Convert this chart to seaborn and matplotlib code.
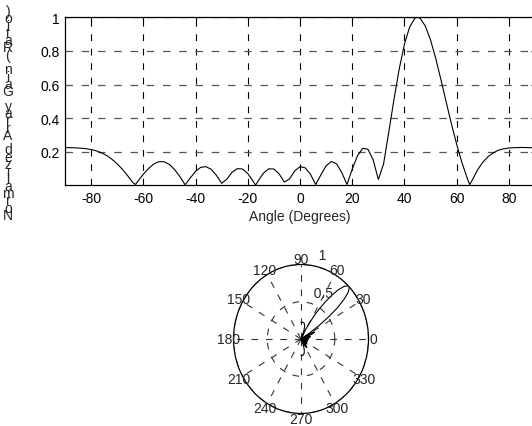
import numpy as np
import seaborn as sns
import matplotlib
matplotlib.use("Agg")
import matplotlib.pyplot as plt

# angle (deg) and normalized array gain
angle = [-90, -88, -86, -84, -82, -80, -78, -76, -74, -72, -70, -68, -66, -64, -63,
         -62, -60, -58, -56, -54, -52, -50, -48, -46, -44, -42, -40, -38, -36, -34,
         -32, -30, -28, -26, -24, -22, -20, -18, -17, -16, -14, -12, -10, -8, -6,
         -4, -2, 0, 2, 4, 6, 8, 10, 12, 14, 16, 18, 20, 22, 24, 26, 28, 30, 32, 34,
         36, 38, 40, 42, 44, 45, 46, 48, 50, 52, 54, 56, 58, 60, 62, 64, 65, 66, 68,
         70, 72, 74, 76, 78, 80, 82, 84, 86, 88, 90]
gain = [0.224, 0.224, 0.223, 0.221, 0.218, 0.213, 0.205, 0.193, 0.177, 0.155, 0.127,
        0.095, 0.057, 0.016, 0.005, 0.026, 0.066, 0.100, 0.127, 0.141, 0.140, 0.124,
        0.093, 0.052, 0.003, 0.044, 0.083, 0.107, 0.111, 0.095, 0.059, 0.012, 0.037,
        0.078, 0.099, 0.097, 0.070, 0.025, 0.001, 0.027, 0.072, 0.098, 0.097, 0.068,
        0.019, 0.038, 0.086, 0.111, 0.104, 0.066, 0.005, 0.062, 0.116, 0.142, 0.128,
        0.076, 0.005, 0.096, 0.175, 0.220, 0.215, 0.153, 0.035, 0.127, 0.317, 0.512,
        0.693, 0.840, 0.943, 0.994, 1.000, 0.994, 0.948, 0.865, 0.754, 0.627, 0.495,
        0.365, 0.244, 0.136, 0.044, 0.004, 0.032, 0.092, 0.137, 0.170, 0.193, 0.209,
        0.217, 0.222, 0.224, 0.225, 0.225, 0.224, 0.224]

xticks = [-80, -60, -40, -20, 0, 20, 40, 60, 80]
yticks = [0.2, 0.4, 0.6, 0.8, 1]
theta_labels = [0, 30, 60, 90, 120, 150, 180, 210, 240, 270, 300, 330]
r_rings = [0.5, 1]

sns.set_style("white")
plt.rcParams['font.family'] = ['Liberation Sans', 'DejaVu Sans']
plt.rcParams['font.size'] = 10

fig = plt.figure(figsize=(5.32, 4.27), dpi=100)
dash = (0, (6, 7))

# cartesian gain plot
ax = fig.add_axes([65 / 532, 1 - 186.3 / 427, 470 / 532, 168 / 427])
sns.lineplot(x=angle, y=gain, ax=ax, color='black', linewidth=0.8)
ax.set_xlim(-90, 90)
ax.set_ylim(0, 1)
ax.set_xticks(xticks)
ax.set_xticklabels([str(t) for t in xticks])
ax.set_yticks(yticks)
ax.set_yticklabels([f"{t:g}" for t in yticks])
ax.tick_params(direction='in', length=3, width=0.8, colors='black', labelsize=10,
               top=True, right=True, pad=4)
ax.xaxis.grid(True, linestyle=dash, color='black', linewidth=0.8)
ax.yaxis.grid(True, linestyle=dash, color='#555555', linewidth=0.9)
for s in ax.spines.values():
    s.set_color('black')
    s.set_linewidth(0.9)
ax.set_xlabel('Angle (Degrees)', fontsize=10, labelpad=3)

# stacked y label as in the reference
label = 'Normalized Array Gain (Ratio)'
fig.text(8 / 532, 1 - 114 / 427, "\n".join(reversed(label)), ha='center', va='center',
         fontsize=10, linespacing=0.39)

# polar plot
pax = fig.add_axes([233.5 / 532, 1 - 414.5 / 427, 135 / 532, 149 / 427], projection='polar')
pax.set_aspect('auto')
sns.lineplot(x=np.deg2rad(angle), y=gain, ax=pax, color='black', linewidth=0.8, sort=False)
pax.set_ylim(0, 1)
pax.set_xticks(np.deg2rad(theta_labels))
pax.set_xticklabels([])
pax.set_yticks(r_rings)
pax.set_yticklabels([])
pax.set_xlabel('')
pax.set_ylabel('')
pax.grid(True, linestyle=dash, color='#333333', linewidth=0.8)
pax.spines['polar'].set_color('black')
pax.spines['polar'].set_linewidth(0.9)
for t in theta_labels:
    pax.text(np.deg2rad(t), 1.07, str(t), ha='center', va='center', fontsize=10)
for r in r_rings:
    pax.text(np.deg2rad(82), r * 1.05, '  ' + f"{r:g}", ha='left', va='bottom', fontsize=10)

fig.savefig('out.png', dpi=100)
